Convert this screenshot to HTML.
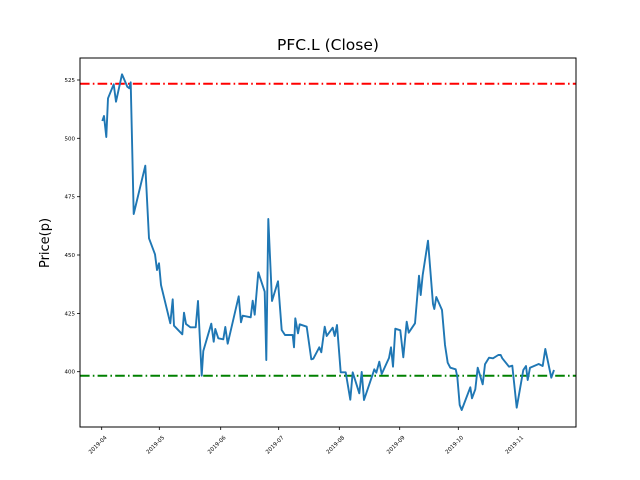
<!DOCTYPE html>
<html><head><meta charset="utf-8"><style>body{margin:0;background:#fff}svg{display:block}text{font-family:"DejaVu Sans","Liberation Sans",sans-serif;fill:#000}</style></head><body>
<svg width="640" height="480" viewBox="0 0 640 480">
<rect width="640" height="480" fill="#fff"/>
<text x="328" y="50" font-size="15.5" text-anchor="middle">PFC.L (Close)</text>
<text transform="translate(49,243) rotate(-90)" font-size="13" text-anchor="middle">Price(p)</text>
<g stroke="#000" stroke-width="0.8">
<line x1="77" x2="80" y1="80" y2="80"/><line x1="77" x2="80" y1="138.3" y2="138.3"/><line x1="77" x2="80" y1="196.7" y2="196.7"/><line x1="77" x2="80" y1="255" y2="255"/><line x1="77" x2="80" y1="313.4" y2="313.4"/><line x1="77" x2="80" y1="371.7" y2="371.7"/>
<line y1="427" y2="430" x1="101.7" x2="101.7"/><line y1="427" y2="430" x1="159.3" x2="159.3"/><line y1="427" y2="430" x1="220.7" x2="220.7"/><line y1="427" y2="430" x1="278.7" x2="278.7"/><line y1="427" y2="430" x1="339.3" x2="339.3"/><line y1="427" y2="430" x1="399.7" x2="399.7"/><line y1="427" y2="430" x1="458.3" x2="458.3"/><line y1="427" y2="430" x1="518.3" x2="518.3"/>
</g>
<g font-size="5.5" text-anchor="end">
<text x="75" y="82">525</text><text x="75" y="140.3">500</text><text x="75" y="198.7">475</text><text x="75" y="257">450</text><text x="75" y="315.4">425</text><text x="75" y="373.7">400</text>
</g>
<g font-size="5.5" text-anchor="middle">
<text transform="translate(99,446) rotate(-45)">2019-04</text>
<text transform="translate(156.6,446) rotate(-45)">2019-05</text>
<text transform="translate(218,446) rotate(-45)">2019-06</text>
<text transform="translate(276,446) rotate(-45)">2019-07</text>
<text transform="translate(336.6,446) rotate(-45)">2019-08</text>
<text transform="translate(397,446) rotate(-45)">2019-09</text>
<text transform="translate(455.6,446) rotate(-45)">2019-10</text>
<text transform="translate(515.6,446) rotate(-45)">2019-11</text>
</g>
<line x1="80" x2="576" y1="83.7" y2="83.7" stroke="#ff0000" stroke-width="2" stroke-dasharray="9.6,3.2,1.6,3.2"/>
<line x1="80" x2="576" y1="375.7" y2="375.7" stroke="#008000" stroke-width="2" stroke-dasharray="9.6,3.2,1.6,3.2"/>
<polyline fill="none" stroke="#1f77b4" stroke-width="1.9" stroke-linejoin="round" points="102.3,121 104,116 106.3,137 108,98.3 113.7,84.3 116,101.7 122,74.3 127.3,86.7 129.3,88.3 130.7,82.3 133.7,214 145.3,165.7 149,238.3 155,254.3 157,270 159,263.3 161,285 170.3,323.3 172.7,299.3 174,325.7 182.3,334.3 184,312.7 186,324 190.3,327.3 195.7,327.3 198,301 201.7,375.7 203.3,351 211.3,323.7 213.7,341.7 215.3,329 218.3,338.3 223.3,339.3 225.3,327 227.7,343.7 238.7,296.3 241,322.3 242.7,315.7 250.7,317.3 252.7,300.7 254.7,314.7 258.3,272.3 264.7,291.7 266.3,360 268.3,219 272,301 278,281.3 281.7,330 285,335 291,335 292.7,335 294,347.3 295.3,318.3 298,333.3 299.7,324.3 306.7,326.7 311.3,359.3 313.3,358.7 319.3,347.3 321.3,352.3 324.7,326.7 326.7,336 332.7,327.7 334.7,336 337,325 340.7,372.3 345.7,372.3 350.3,399.7 352.7,372.3 359.3,393.3 361.7,372 364,400 372.7,374.3 374.3,369.3 376.3,372.7 379.3,361.7 381.7,374 389,358 391,347.3 393,366.7 395.3,328.7 400.3,330.3 403.3,357.3 406.7,321.7 408.7,332.7 415,323.3 419,275.7 420.7,295 422.7,275 428,240.7 433,304 434.3,309 436.3,297 442,310 445,345 447.7,362.7 450.3,367.7 455.7,369.3 457.3,376.7 459.7,405 461.7,410 470.3,387.3 472,398.3 475.3,389.3 477.7,367.7 482.7,384.3 485,364.3 489,357.7 493,358.3 498.3,355 500.7,355 502.3,358.3 509,366.7 512.3,365.7 516.7,407.7 523.3,370 526,366 527.7,380 530,367.7 538.7,364 542.7,366 545.3,349 551.3,377.7 554,370"/>
<rect x="80" y="58" width="496" height="369" fill="none" stroke="#000" stroke-width="1"/>
</svg>
</body></html>
